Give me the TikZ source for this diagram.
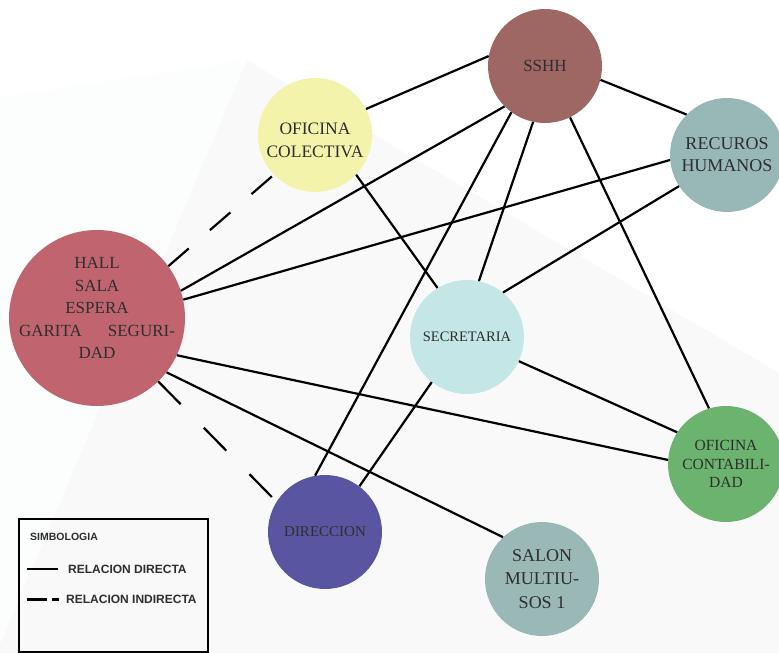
\documentclass[tikz,border=0pt]{standalone}
\usepackage{fontspec}
\setmainfont{Liberation Serif}
\setsansfont{Liberation Sans}
\usepackage{tikz}
\usetikzlibrary{positioning}
\definecolor{csshh}{HTML}{9E6764}
\definecolor{cofcol}{HTML}{F4F3AB}
\definecolor{crrhh}{HTML}{98B8B7}
\definecolor{chall}{HTML}{C06570}
\definecolor{csecre}{HTML}{C4E6E7}
\definecolor{cofcont}{HTML}{6BB36F}
\definecolor{cdirec}{HTML}{5A55A1}
\definecolor{csalon}{HTML}{99B8B6}
\definecolor{txtgray}{HTML}{2E2E2E}
\definecolor{bgout}{HTML}{FCFDFD}
\definecolor{bgin}{HTML}{F9F9FA}

\begin{document}
\begin{tikzpicture}[x=1pt,y=-1pt,
  area/.style={circle,inner sep=0pt,minimum size=114pt,align=center,text=txtgray,
    font=\fontsize{17}{22.5}\selectfont},
  areatxt/.style={align=center,text=txtgray,inner sep=0pt,font=\fontsize{17}{22.5}\selectfont},
  rel/.style={line width=2.2pt},
  relind/.style={line width=2.2pt,dash pattern=on 27pt off 28pt},
  leyenda/.style={font=\sffamily\bfseries\fontsize{12}{13}\selectfont,text=txtgray,inner sep=0pt,anchor=west}]
\clip (0,0) rectangle (779,653);
\fill[bgout] (0,97) -- (247,60) -- (779,373) -- (779,653) -- (0,653) -- cycle;
\fill[bgin] (247,60) -- (779,373) -- (779,653) -- (0,653) -- (0,645) -- cycle;

\node[area,fill=csshh] (sshh) at (545,66) {SSHH};
\node[area,fill=cofcol] (ofcol) at (315,135) {};
\node[areatxt,font=\fontsize{17.5}{23}\selectfont] (ofcolt) at (315,140) {OFICINA\\COLECTIVA};
\node[area,fill=crrhh,font=\fontsize{18}{22}\selectfont] (rrhh) at (727,155) {RECUROS\\HUMANOS};
\node[area,fill=chall,minimum size=176pt] (hall) at (97,318) {};
\node[areatxt] (hallt) at (97,308) {HALL\\SALA\\ESPERA\\GARITA\hspace{26pt}SEGURI-\\DAD};
\node[area,fill=csecre,font=\fontsize{14.5}{18}\selectfont] (secre) at (467,337) {SECRETARIA};
\node[area,fill=cofcont,minimum size=116pt,font=\fontsize{15.5}{18.5}\selectfont] (ofcont) at (726,464) {OFICINA\\CONTABILI-\\DAD};
\node[area,fill=cdirec,font=\fontsize{15}{18}\selectfont] (direc) at (325,532) {DIRECCION};
\node[area,fill=csalon,font=\fontsize{18}{23.5}\selectfont] (salon) at (542,579) {SALON\\MULTIU-\\SOS 1};

\draw[rel] (sshh.170) -- (ofcol.27);
\draw[rel] (sshh.-14) -- (rrhh.135);
\draw[rel] (sshh.-135) -- (hall.18);
\draw[rel] (sshh.-126) -- (direc.100);
\draw[rel] (sshh.-102) -- (secre.78);
\draw[rel] (sshh.-64) -- (ofcont.107);
\draw[rel] (rrhh.185) -- (hall.12);
\draw[rel] (rrhh.213) -- (secre.51);
\draw[rel] (ofcol.-44) -- (secre.121);
\draw[rel] (hall.-25) -- (ofcont.176);
\draw[rel] (secre.-25) -- (ofcont.147);
\draw[rel] (secre.-128) -- (direc.53);
\draw[rel] (hall.-38) -- (salon.133);
\draw[relind] (hall.36) -- (ofcol.-136);
\draw[relind,dash pattern=on 32pt off 33pt] (hall.-46) -- (direc.148);

\draw[line width=2pt] (19,519) rectangle (208,652);
\node[leyenda,font=\sffamily\bfseries\fontsize{10.5}{12}\selectfont] (simb) at (30,537) {SIMBOLOGIA};
\coordinate (rd1) at (27,569);
\coordinate (rd2) at (58,569);
\coordinate (ri1) at (27,599);
\coordinate (ri2) at (59,599);
\draw[line width=2.2pt] (rd1) -- (rd2);
\draw[line width=3pt,dash pattern=on 20pt off 5pt] (ri1) -- (ri2);
\node[leyenda] (tdir) at (68,569) {RELACION DIRECTA};
\node[leyenda] (tind) at (66,599) {RELACION INDIRECTA};
\end{tikzpicture}
\end{document}
